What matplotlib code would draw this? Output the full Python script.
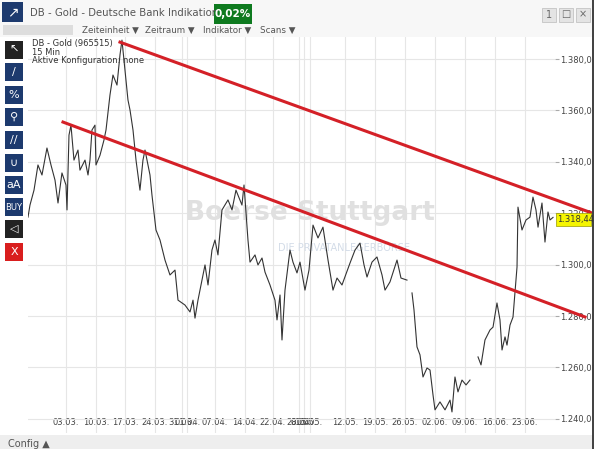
import numpy as np
import matplotlib
matplotlib.use("Agg")
import matplotlib.pyplot as plt
from matplotlib.patches import Rectangle

# trading-day index (0 = 03.03.) and price
day = [-6.33,-6.0,-5.33,-4.67,-4.0,-3.17,-2.5,-1.83,-1.33,-0.67,0,0.17,0.5,0.83,1.33,2.0,2.33,3.17,3.67,4.0,
       4.33,4.83,5.0,5.67,6.33,6.67,7.33,7.83,8.5,9.0,9.33,9.67,10.33,10.67,11.17,11.67,12.33,12.83,13.17,14.0,
       14.33,15.0,15.67,16.5,17.33,18.17,18.67,19.83,20.67,21.17,21.5,22.0,22.33,23.17,23.67,24.33,24.83,25.33,26.0,27.0,
       27.67,28.33,29.33,29.67,30.33,30.67,31.5,32.0,32.67,33.17,34.0,34.83,35.17,35.67,36.0,36.5,37.33,37.83,38.5,39.0,
       39.83,40.5,41.17,42.0,42.83,43.67,44.5,45.17,46.0,47.33,48.17,49.0,49.67,50.17,51.0,51.83,52.67,53.17,54.0,55.17,
       55.83,56.83,57.2,
       57.67,58.0,58.5,59.0,59.5,60.17,60.67,61.17,61.5,62.33,63.17,64.0,64.33,64.83,65.33,66.0,66.67,67.33,68.0,
       68.67,69.17,69.83,70.67,71.17,71.83,72.33,72.67,73.17,73.5,74.0,74.5,75.17,75.33,76.0,76.67,77.33,77.83,78.33,78.67,
       79.33,79.83,80.33,80.67,81.17]
price = [1318.5,1323.2,1329.0,1338.8,1334.9,1345.4,1338.8,1332.9,1324.0,1335.7,1331.0,1321.3,1350.4,1354.3,1340.7,1344.6,1336.8,1340.7,1334.9,1340.7,
         1352.4,1354.3,1338.8,1342.6,1348.5,1352.4,1366.0,1373.8,1369.9,1381.6,1387.4,1379.6,1364.1,1360.2,1352.4,1340.7,1329.0,1340.7,1344.6,1334.9,
         1327.1,1313.5,1309.6,1301.8,1296.0,1297.9,1286.2,1284.3,1281.6,1286.2,1279.2,1286.2,1290.1,1299.9,1292.1,1305.7,1309.6,1303.8,1321.3,1325.2,
         1321.3,1329.0,1323.2,1331.0,1309.6,1301.0,1303.8,1299.9,1302.6,1297.1,1292.1,1286.2,1278.5,1288.2,1270.7,1290.1,1305.7,1301.0,1296.8,1301.0,
         1290.1,1297.9,1315.4,1310.4,1314.6,1301.8,1290.1,1294.8,1292.1,1300.6,1305.7,1308.4,1299.9,1295.2,1301.0,1303.0,1296.0,1290.1,1293.3,1301.8,
         1294.8,1294.0,np.nan,
         1289.0,1282.4,1268.0,1264.9,1256.3,1259.8,1259.0,1249.3,1243.5,1246.6,1243.5,1247.3,1242.7,1256.3,1250.5,1255.1,1253.2,1255.1,np.nan,
         1264.1,1261.0,1270.7,1274.6,1275.7,1285.1,1278.5,1266.8,1271.9,1268.7,1276.5,1279.6,1299.1,1322.4,1313.5,1317.4,1318.5,1326.3,1321.3,1314.6,
         1324.0,1308.8,1320.5,1317.4,1318.4]

upper_day = [9.0, 87.67]; upper_price = [1386.6, 1320.1]
lower_day = [-0.5, 86.5]; lower_price = [1355.5, 1279.65]

xtick_pos = [0,5,9.83,14.83,19.3,20.2,24.83,29.83,34.5,38.9,39.6,40.6,46.5,51.5,56.5,61.5,66.5,71.5,76.5]
xtick_lab = ["03.03.","10.03.","17.03.","24.03.","31.03.","01.04.","07.04.","14.04.","22.04.","28.04.","01.05.","05.05.",
             "12.05.","19.05.","26.05.","02.06.","09.06.","16.06.","23.06."]
ytick_pos = [1240,1260,1280,1300,1320,1340,1360,1380]
last_price = 1318.44

W, H = 594, 449
fig = plt.figure(figsize=(W/100, H/100), dpi=100)
fig.patch.set_facecolor("white")
def fx(x): return x / W
def fy(y): return 1 - y / H

ax = fig.add_axes([fx(28), fy(433), (555-28)/W, (433-37)/H])
ax.set_xlim(-6.33, 81.5)
ax.set_ylim(1234.5, 1388.6)
ax.plot(day, price, color="#333333", lw=0.8, zorder=3)
ax.plot(upper_day, upper_price, color="#d42027", lw=2.2, clip_on=False, zorder=4)
ax.plot(lower_day, lower_price, color="#d42027", lw=2.2, clip_on=False, zorder=4)
ax.set_xticks(xtick_pos)
ax.set_xticklabels(xtick_lab, fontsize=6, color="#444444")
ax.set_yticks(ytick_pos)
ax.set_yticklabels([f"1.{int(v)-1000:03d},00" for v in ytick_pos], fontsize=6, color="#444444")
ax.yaxis.tick_right()
ax.tick_params(axis="y", length=3, pad=1, color="#aaaaaa")
ax.tick_params(axis="x", length=0, pad=-11)
ax.grid(True, color="#e6e6e6", lw=0.8)
for s in ax.spines.values():
    s.set_visible(False)
ax.set_axisbelow(True)

# watermark
ax.text(0.535, 0.555, "Boerse Stuttgart", transform=ax.transAxes, fontsize=19, color="#e0e0e0",
        ha="center", va="center", fontweight="bold", zorder=1)
ax.text(0.6, 0.468, "DIE PRIVATANLEGERBÖRSE", transform=ax.transAxes, fontsize=7, color="#d3dce8",
        ha="center", va="center", zorder=1)

# legend text
fig.text(fx(32), fy(39), "DB - Gold (965515)\n15 Min\nAktive Konfiguration: none", fontsize=6,
         color="#333333", va="top", linespacing=0.95)

# price label
fig.patches.append(Rectangle((fx(556), fy(226)), 35/W, 13/H, transform=fig.transFigure,
                             facecolor="#f5f500", edgecolor="#999900", lw=0.5))
fig.text(fx(557), fy(219.5), "1.318,44", fontsize=6, va="center", color="#333333")

# header
fig.patches.append(Rectangle((0, fy(37)), 1, 37/H, transform=fig.transFigure, facecolor="#f7f7f7", edgecolor="none"))
fig.patches.append(Rectangle((fx(2), fy(22)), 21/W, 20/H, transform=fig.transFigure, facecolor="#1d3a6e"))
fig.text(fx(12.5), fy(12), "↗", fontsize=10, color="white", ha="center", va="center")
fig.text(fx(30), fy(13), "DB - Gold - Deutsche Bank Indikation", fontsize=7.3, color="#555555", va="center")
fig.patches.append(Rectangle((fx(214), fy(24)), 38/W, 20/H, transform=fig.transFigure, facecolor="#0e7a1f"))
fig.text(fx(233), fy(14), "0,02%", fontsize=7.5, color="white", ha="center", va="center", fontweight="bold")
for i, t in enumerate(["1", "□", "×"]):
    fig.patches.append(Rectangle((fx(542+i*17), fy(22)), 14/W, 14/H, transform=fig.transFigure,
                                 facecolor="#e4e4e4", edgecolor="#bbbbbb", lw=0.5))
    fig.text(fx(549+i*17), fy(14.5), t, fontsize=7, color="#666666", ha="center", va="center")
fig.patches.append(Rectangle((fx(3), fy(35)), 70/W, 10/H, transform=fig.transFigure, facecolor="#dddddd"))
for x, t in [(82, "Zeiteinheit ▼"), (145, "Zeitraum ▼"), (203, "Indikator ▼"), (260, "Scans ▼")]:
    fig.text(fx(x), fy(30), t, fontsize=6.3, color="#555555", va="center")

# left toolbar
icons = ["↖", "/", "%", "⚲", "//", "∪", "aA", "BUY", "◁", "X"]
for i, t in enumerate(icons):
    yc = [50, 72, 95, 117, 140, 163, 185, 207, 229, 252][i]
    fc = "#d91e1e" if t == "X" else ("#222222" if i in (0, 8) else "#1d3a6e")
    fig.patches.append(Rectangle((fx(5), fy(yc+9)), 18/W, 18/H, transform=fig.transFigure, facecolor=fc))
    fig.text(fx(14), fy(yc), t, fontsize=6 if len(t) > 2 else 8, color="white", ha="center", va="center")

# bottom strip
fig.patches.append(Rectangle((0, 0), 1, 14/H, transform=fig.transFigure, facecolor="#eeeeee"))
fig.text(fx(8), fy(447), "Config ▲", fontsize=7, color="#555555")
fig.patches.append(Rectangle((fx(592), 0), 2/W, 1, transform=fig.transFigure, facecolor="#444444"))

fig.savefig("out.png", dpi=100)
